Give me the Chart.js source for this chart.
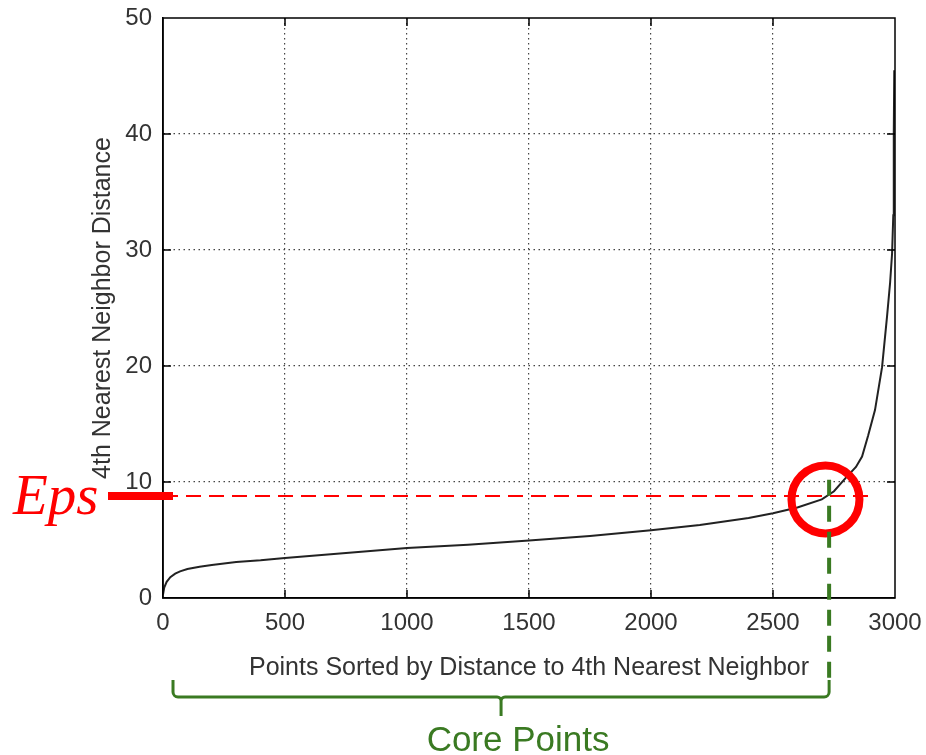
<!DOCTYPE html>
<html>
<head>
<meta charset="utf-8">
<script src="https://cdn.jsdelivr.net/npm/chart.js@4.4.1/dist/chart.umd.min.js"></script>
<style>
  html, body { margin: 0; padding: 0; background: #fff; }
  #wrap { width: 926px; height: 755px; }
</style>
</head>
<body>
<div id="wrap"><canvas id="grafica" width="926" height="755"></canvas></div>
<script>
// curva de distancias ordenadas
const puntosX = [0, 5, 15, 30, 50, 70, 100, 150, 200, 300, 400, 500, 700, 1000, 1250, 1500, 1750, 2000, 2200, 2400, 2500, 2600, 2700, 2750, 2800, 2840, 2865, 2890, 2918, 2947, 2967, 2980, 2988, 2993, 2995, 2997];
const distancias = [0.3, 0.9, 1.4, 1.8, 2.1, 2.3, 2.5, 2.7, 2.85, 3.1, 3.25, 3.45, 3.8, 4.3, 4.6, 4.95, 5.35, 5.85, 6.3, 6.9, 7.3, 7.8, 8.5, 9.2, 10.4, 11.3, 12.2, 14.0, 16.2, 19.9, 24.2, 27.2, 29.7, 33.0, 40.0, 45.5];

const ticksX = [0, 500, 1000, 1500, 2000, 2500, 3000];
const ticksY = [0, 10, 20, 30, 40, 50];

// anotaciones
const eps = 8.8;
const epsFinX = 2905;
const corteX = 2730;        // linea verde (fin de puntos nucleo)
const corteYTop = 10.2;
const circulo = [2715, 8.5];
const llaveInicioX = 41;

const ROJO = '#ff0000';
const VERDE = '#3a7a22';

const datos = puntosX.map((x, i) => ({ x: x, y: distancias[i] }));

const anotaciones = {
    id: 'anotaciones',
    afterDraw(chart) {
        const ctx = chart.ctx;
        const sx = chart.scales.x, sy = chart.scales.y;
        const a = chart.chartArea;

        ctx.save();
        // marco superior y derecho
        ctx.strokeStyle = '#000';
        ctx.lineWidth = 1.5;
        ctx.strokeRect(a.left, a.top, a.right - a.left, a.bottom - a.top);

        // marcas hacia adentro
        ctx.lineWidth = 1.5;
        ctx.beginPath();
        ticksX.slice(1, -1).forEach(v => {
            const px = sx.getPixelForValue(v);
            ctx.moveTo(px, a.bottom); ctx.lineTo(px, a.bottom - 8);
            ctx.moveTo(px, a.top); ctx.lineTo(px, a.top + 8);
        });
        ticksY.slice(1, -1).forEach(v => {
            const py = sy.getPixelForValue(v);
            ctx.moveTo(a.left, py); ctx.lineTo(a.left + 8, py);
            ctx.moveTo(a.right, py); ctx.lineTo(a.right - 8, py);
        });
        ctx.stroke();

        // linea Eps
        const yEps = sy.getPixelForValue(eps);
        ctx.strokeStyle = ROJO;
        ctx.lineWidth = 2;
        ctx.setLineDash([15, 8]);
        ctx.beginPath();
        ctx.moveTo(a.left, yEps);
        ctx.lineTo(sx.getPixelForValue(epsFinX), yEps);
        ctx.stroke();
        ctx.setLineDash([]);

        // barra roja gruesa
        ctx.lineWidth = 8;
        ctx.beginPath();
        ctx.moveTo(108, yEps);
        ctx.lineTo(a.left + 10, yEps);
        ctx.stroke();

        // texto Eps
        ctx.fillStyle = ROJO;
        ctx.font = 'italic 57px "Liberation Serif", serif';
        ctx.textAlign = 'left';
        ctx.textBaseline = 'alphabetic';
        ctx.fillText('Eps', 13, yEps + 18);

        // circulo
        ctx.lineWidth = 8;
        ctx.beginPath();
        ctx.arc(sx.getPixelForValue(circulo[0]), sy.getPixelForValue(circulo[1]), 34, 0, Math.PI * 2);
        ctx.stroke();

        // linea verde y llave
        const xc = sx.getPixelForValue(corteX);
        const x0 = sx.getPixelForValue(llaveInicioX);
        const yLlave = a.bottom + 99;
        const yArriba = a.bottom + 82;
        ctx.strokeStyle = VERDE;
        ctx.lineWidth = 4;
        ctx.setLineDash([16, 10]);
        ctx.beginPath();
        ctx.moveTo(xc, sy.getPixelForValue(corteYTop));
        ctx.lineTo(xc, yArriba);
        ctx.stroke();
        ctx.setLineDash([]);

        ctx.lineWidth = 3;
        const xm = (x0 + xc) / 2;
        ctx.beginPath();
        ctx.moveTo(x0, yArriba);
        ctx.arcTo(x0, yLlave, x0 + 6, yLlave, 5);
        ctx.lineTo(xm - 4, yLlave);
        ctx.arcTo(xm, yLlave, xm, yLlave + 6, 4);
        ctx.lineTo(xm, yLlave + 19);
        ctx.moveTo(xm, yLlave + 4);
        ctx.arcTo(xm, yLlave, xm + 4, yLlave, 4);
        ctx.lineTo(xc - 6, yLlave);
        ctx.arcTo(xc, yLlave, xc, yArriba, 5);
        ctx.lineTo(xc, yArriba);
        ctx.stroke();

        ctx.fillStyle = VERDE;
        ctx.font = '35px "Liberation Sans", Arial, sans-serif';
        ctx.textAlign = 'center';
        ctx.fillText('Core Points', xm + 17, a.bottom + 153);
        ctx.restore();
    }
};

const fuenteEje = { family: '"Liberation Sans", Arial, sans-serif', size: 24 };
const fuenteTitulo = { family: '"Liberation Sans", Arial, sans-serif', size: 25 };

function ocultarBordes(valores) {
    return (c) => (c.tick && (c.tick.value === valores[0] || c.tick.value === valores[1])) ? 'rgba(0,0,0,0)' : '#444';
}

function sinRelleno(s) {
    s.paddingTop = 0; s.paddingBottom = 0; s.paddingLeft = 0; s.paddingRight = 0;
}

new Chart(document.getElementById('grafica').getContext('2d'), {
    type: 'scatter',
    data: {
        datasets: [{
            data: datos,
            showLine: true,
            pointRadius: 0,
            borderColor: '#222',
            borderWidth: 2,
            tension: 0
        }]
    },
    options: {
        responsive: false,
        animation: false,
        devicePixelRatio: 1,
        layout: { autoPadding: false, padding: { left: 0, right: 31, top: 18, bottom: 0 } },
        plugins: { legend: { display: false }, tooltip: { enabled: false } },
        scales: {
            x: {
                type: 'linear', min: 0, max: 3000,
                afterFit: (s) => { s.height = 157; sinRelleno(s); },
                afterBuildTicks: (s) => { s.ticks = ticksX.map(v => ({ value: v })); },
                ticks: { font: fuenteEje, color: '#333', padding: 11, maxRotation: 0, callback: (v) => String(v) },
                grid: { color: ocultarBordes([0, 3000]), lineWidth: 1.2, drawTicks: false },
                border: { display: true, color: '#000', width: 1.5, dash: [1.5, 3.5] },
                title: { display: true, text: 'Points Sorted by Distance to 4th Nearest Neighbor', font: fuenteTitulo, color: '#333', padding: { top: 8, bottom: 72 } }
            },
            y: {
                type: 'linear', min: 0, max: 50,
                afterFit: (s) => { s.width = 163; sinRelleno(s); },
                afterBuildTicks: (s) => { s.ticks = ticksY.map(v => ({ value: v })); },
                ticks: { font: fuenteEje, color: '#333', padding: 11, callback: (v) => String(v) },
                grid: { color: ocultarBordes([0, 50]), lineWidth: 1.2, drawTicks: false },
                border: { display: true, color: '#000', width: 1.5, dash: [1.5, 3.5] },
                title: { display: true, text: '4th Nearest Neighbor Distance', font: fuenteTitulo, color: '#333', padding: { top: 88, bottom: 8 } }
            }
        }
    },
    plugins: [anotaciones]
});
</script>
</body>
</html>
